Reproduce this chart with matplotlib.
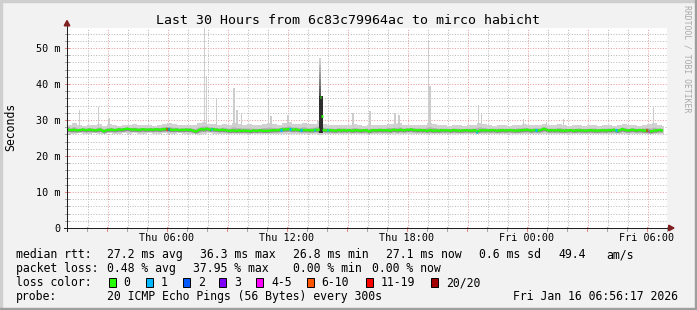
import matplotlib
matplotlib.use("Agg")
import matplotlib.pyplot as plt
import numpy as np
from matplotlib.patches import Rectangle, Polygon
from matplotlib.lines import Line2D

# ---------------- data ----------------
title = "Last 30 Hours from 6c83c79964ac to mirco habicht"
x_tick_hours = [5, 11, 17, 23, 29]          # hours after Thu 01:00
x_tick_labels = ["Thu 06:00", "Thu 12:00", "Thu 18:00", "Fri 00:00", "Fri 06:00"]
y_tick_values = [0, 10, 20, 30, 40, 50]
y_tick_labels = ["0", "10 m", "20 m", "30 m", "40 m", "50 m"]

# median rtt in ms, one value per 5 minutes, one row per hour (from Thu 01:00)
median_ms = [
    27.3, 27.3, 27.2, 27.2, 27.3, 27.2, 27.1, 27.2, 27.2, 27.3, 27.3, 27.2,
    27.2, 27.3, 27.3, 27.2, 27.2, 27.1, 27.2, 27.3, 27.3, 27.2, 26.8, 27.1,
    27.2, 27.2, 27.3, 27.3, 27.2, 27.2, 27.3, 27.4, 27.3, 27.3, 27.4, 27.5,
    27.6, 27.5, 27.4, 27.3, 27.4, 27.3, 27.3, 27.2, 27.3, 27.4, 27.4, 27.3,
    27.3, 27.3, 27.4, 27.3, 27.3, 27.4, 27.4, 27.3, 27.3, 27.4, 27.4, 27.5,
    27.5, 27.4, 27.3, 27.3, 27.2, 27.3, 27.3, 27.2, 27.2, 27.3, 27.2, 27.3,
    27.3, 27.2, 27.3, 27.1, 27.0, 26.8, 26.9, 27.2, 27.4, 27.5, 27.3, 27.5,
    27.6, 27.4, 27.3, 27.5, 27.4, 27.3, 27.3, 27.2, 27.2, 27.3, 27.2, 27.2,
    27.1, 27.0, 27.0, 27.1, 27.1, 27.0, 27.0, 27.1, 27.0, 27.0, 27.1, 27.0,
    27.0, 27.0, 26.9, 27.0, 27.1, 27.0, 27.0, 27.1, 27.1, 27.0, 27.0, 27.0,
    27.0, 27.0, 27.1, 27.1, 27.2, 27.1, 27.2, 27.2, 27.3, 27.4, 27.3, 27.4,
    27.4, 27.5, 27.4, 27.3, 27.3, 27.4, 27.3, 27.2, 27.2, 27.2, 27.2, 27.2,
    27.2, 27.1, 27.2, 27.1, 27.2, 27.3, 27.2, 27.3, 36.3, 31.2, 27.2, 27.1,
    27.2, 27.1, 27.2, 27.1, 27.1, 27.0, 27.1, 27.2, 27.1, 27.1, 27.2, 27.1,
    27.1, 27.2, 27.1, 27.0, 27.1, 27.1, 27.2, 27.1, 27.0, 27.1, 27.1, 27.2,
    27.1, 26.8, 27.0, 27.1, 27.2, 27.1, 27.1, 27.2, 27.2, 27.1, 27.2, 27.1,
    27.2, 27.1, 27.0, 27.2, 27.3, 27.2, 27.1, 27.2, 27.3, 27.2, 27.1, 27.2,
    27.3, 27.2, 27.4, 27.3, 27.2, 27.2, 27.1, 27.2, 27.2, 27.1, 27.2, 27.1,
    27.0, 27.1, 27.2, 27.1, 27.0, 27.1, 27.1, 27.0, 27.1, 27.2, 27.1, 27.1,
    27.2, 27.1, 27.0, 27.1, 27.2, 27.1, 27.1, 27.1, 27.0, 27.1, 27.1, 27.2,
    27.1, 27.1, 27.1, 27.0, 27.2, 27.1, 26.8, 27.0, 27.1, 27.2, 27.1, 27.1,
    27.2, 27.1, 27.1, 27.2, 27.2, 27.1, 27.0, 27.1, 27.1, 27.2, 27.1, 27.1,
    27.1, 27.2, 27.2, 27.1, 27.1, 27.0, 27.1, 27.1, 27.1, 27.2, 27.2, 27.2,
    27.3, 27.2, 27.1, 27.1, 27.2, 27.2, 27.1, 27.1, 27.2, 27.3, 27.6, 27.4,
    27.2, 27.1, 27.1, 27.2, 27.1, 27.1, 27.2, 27.1, 27.1, 27.1, 27.0, 27.1,
    27.1, 27.1, 27.2, 27.1, 27.0, 27.1, 27.1, 27.2, 27.1, 27.1, 27.1, 27.0,
    27.1, 27.1, 27.2, 27.1, 27.1, 27.1, 27.0, 27.1, 27.1, 27.2, 27.1, 27.1,
    27.1, 27.2, 27.1, 27.2, 27.3, 27.1, 27.0, 27.1, 27.2, 27.5, 27.3, 27.2,
    27.1, 27.1, 27.2, 27.3, 27.2, 27.1, 27.1, 27.2, 27.2, 27.1, 27.1, 27.0,
    27.1, 27.0, 26.8, 26.9, 27.0, 27.1, 27.1, 27.2, 27.2, 27.1,
]

# smoke envelope (fastest / slowest ping) in ms, one value per 15 minutes
smoke_hi_ms = [
    28.6, 29.2, 28.5, 28.4,  28.7, 28.5, 29.0, 28.4,  28.9, 28.5, 28.4, 28.6,
    28.5, 28.8, 28.6, 28.5,  28.6, 28.4, 28.7, 29.0,  29.2, 28.9, 28.6, 28.5,
    28.7, 28.6, 29.1, 29.5,  29.0, 28.8, 28.6, 28.9,  28.7, 29.3, 29.0, 28.7,
    28.8, 28.6, 28.5, 29.0,  29.2, 28.9, 28.7, 29.1,  29.4, 29.0, 28.9, 29.2,
    28.8, 29.0, 29.6, 28.9,  28.6, 28.5, 28.7, 28.6,  28.5, 28.9, 28.6, 28.4,
    28.7, 28.5, 28.6, 28.5,  29.0, 28.8, 29.1, 28.6,  28.5, 28.7, 28.6, 28.5,
    29.3, 29.0, 28.6, 28.5,  28.4, 28.6, 28.5, 28.4,  28.5, 28.6, 29.3, 28.9,
    28.5, 28.4, 28.6, 28.5,  28.4, 28.5, 28.7, 28.9,  28.5, 28.6, 28.7, 29.0,
    28.6, 28.5, 28.9, 28.6,  28.4, 28.5, 28.6, 28.4,  28.5, 28.6, 28.4, 28.5,
    28.6, 28.4, 28.5, 28.8,  28.5, 28.6, 28.4, 28.7,  28.9, 29.1, 28.6, 28.4,
]
smoke_lo_ms = [
    26.2, 26.0, 26.3, 26.2,  26.1, 26.3, 26.2, 26.0,  26.3, 26.2, 26.1, 26.3,
    26.2, 26.3, 26.2, 26.1,  26.3, 26.2, 26.2, 26.3,  26.0, 26.2, 26.3, 26.2,
    26.2, 26.1, 25.9, 26.2,  26.3, 26.2, 26.2, 26.1,  26.1, 26.0, 26.1, 26.2,
    26.0, 26.1, 26.1, 26.0,  26.1, 26.2, 26.1, 26.2,  26.2, 26.1, 26.2, 26.1,
    26.1, 26.2, 25.8, 26.2,  26.1, 26.0, 26.2, 26.1,  26.2, 26.1, 26.0, 26.1,
    26.0, 26.1, 26.2, 26.1,  26.1, 26.2, 26.0, 26.2,  26.2, 26.1, 26.1, 26.2,
    26.1, 26.0, 26.1, 26.2,  26.1, 26.2, 26.1, 26.0,  26.1, 26.0, 26.1, 26.2,
    26.2, 26.1, 26.0, 26.1,  26.1, 26.2, 26.1, 26.1,  26.0, 26.1, 26.2, 26.1,
    26.1, 26.2, 26.1, 26.0,  26.2, 26.1, 26.1, 26.2,  26.1, 26.0, 26.1, 26.1,
    26.2, 26.1, 26.0, 26.1,  26.1, 26.2, 26.1, 26.0,  26.1, 26.0, 26.2, 26.1,
]

# isolated slow pings (hours after Thu 01:00, slowest ping in ms)
spike_hours = [0.62, 1.57, 2.10, 6.88, 6.97, 7.48, 8.35, 8.50, 8.73, 10.07,
               10.20, 11.05, 14.30, 15.15, 16.40, 16.60, 18.07, 18.15, 20.57,
               20.73, 22.82, 23.98, 24.82, 29.32]
spike_top_ms = [32.8, 33.7, 30.6, 55.6, 42.2, 36.2, 38.8, 32.8, 32.0, 36.2,
                31.0, 31.4, 32.0, 32.6, 32.0, 31.4, 52.2, 39.4, 34.2,
                32.0, 30.3, 29.5, 30.3, 33.7]

# burst around Thu 13:38
burst_hour = 12.69
burst_dense_top_ms = 36.6
burst_top_ms = 47.3

# packet loss events (hour, lost pings out of 20)
loss_hours = [4.98, 5.08, 7.23, 10.70, 11.15, 11.70, 12.38, 13.03, 20.48, 23.45, 27.45, 28.98, 29.07]
loss_pings = [12, 2, 1, 1, 1, 1, 1, 1, 1, 1, 1, 12, 4]

loss_labels = ["0", "1", "2", "3", "4-5", "6-10", "11-19", "20/20"]
loss_colors = ["#26ff00", "#00b8ff", "#0059ff", "#7e00ff", "#ff00ff", "#ff5500", "#ff0000", "#a10000"]

rtt_stats = ["27.2 ms avg", "36.3 ms max", "26.8 ms min", "27.1 ms now", "0.6 ms sd", "49.4", "am/s"]
loss_stats = ["0.48 % avg", "37.95 % max", "0.00 % min", "0.00 % now"]
probe_text = "20 ICMP Echo Pings (56 Bytes) every 300s"
stamp_text = "Fri Jan 16 06:56:17 2026"

# ---------------- drawing ----------------
W, H = 697, 310
MONO = "DejaVu Sans Mono"
fig = plt.figure(figsize=(W / 100, H / 100), dpi=100)
fig.patch.set_facecolor("#f2f2f2")


def fx(x):
    return x / W


def fy(y):
    return 1 - y / H


# frame shading
fig.patches.append(Rectangle((0, fy(2)), 1, 2 / H, transform=fig.transFigure, color="#cfcfcf", zorder=0))
fig.patches.append(Rectangle((0, 0), 2 / W, 1, transform=fig.transFigure, color="#cfcfcf", zorder=0))
fig.patches.append(Rectangle((0, 0), 1, 2 / H, transform=fig.transFigure, color="#9e9e9e", zorder=0))
fig.patches.append(Rectangle((fx(695), 0), 2 / W, 1, transform=fig.transFigure, color="#9e9e9e", zorder=0))

PX_PER_MS = 3.6
ax = fig.add_axes([fx(67), fy(228), 600 / W, 200 / H])
ax.set_facecolor("white")
ax.set_xlim(0, 30)
ax.set_ylim(0, 200 / PX_PER_MS)
for s in ax.spines.values():
    s.set_visible(False)
ax.set_xticks([])
ax.set_yticks([])

# grid (fine dotted)
minor_c, major_c = "#b8b8b8", "#e89a9a"
DOT = (0, (1, 1.6))
for h in range(1, 30):
    major = (h - 2) % 3 == 0
    ax.axvline(h + 0.025, color=major_c if major else minor_c, lw=0.72, ls=DOT, zorder=1)
for v in range(2, 56, 2):
    major = v % 10 == 0
    ax.axhline(v, color=major_c if major else minor_c, lw=0.72, ls=DOT, zorder=1)

# data
med = np.array(median_ms)
n = len(med)
t = np.arange(n) / 12.0
t_end = n / 12.0
lo15 = np.array(smoke_lo_ms)
hi15 = np.array(smoke_hi_ms)
edges = np.minimum(np.arange(len(lo15) + 1) * 0.25, t_end)
ax.fill_between(edges, np.append(lo15, lo15[-1]), np.append(hi15, hi15[-1]),
                step="post", color="#d2d2d2", lw=0, zorder=2)
lo5 = np.repeat(lo15, 3)[:n]
hi5 = np.repeat(hi15, 3)[:n]
base_med = np.minimum(med, 27.6)
ax.fill_between(t, (lo5 + base_med) / 2, (hi5 + base_med) / 2 - 0.1, color="#b4b4b4", lw=0, zorder=2.1)
ax.fill_between(t, base_med - 0.45, base_med + 0.45, color="#8c8c8c", lw=0, zorder=2.2)

ax.bar(spike_hours, np.array(spike_top_ms) - 28.0, bottom=28.0, width=1 / 12,
       color="#cdcdcd", lw=0, zorder=2.05)

# burst: dense dark part and gradient tail
ax.bar(burst_hour, burst_dense_top_ms - 26.3, bottom=26.3, width=0.17, color="#2e2e2e", lw=0, zorder=2.5)
levels = np.linspace(burst_dense_top_ms, burst_top_ms, 12)
shades = np.linspace(0.33, 0.84, 11)
for k in range(11):
    ax.bar(burst_hour - 0.03, levels[k + 1] - levels[k], bottom=levels[k], width=0.11,
           color=str(shades[k]), lw=0, zorder=2.5)

# median line: continuous where it stays in the band, isolated steps where it jumps
jump = np.zeros(n, dtype=bool)
jump[1:] |= np.abs(np.diff(med)) > 1.5
jump[:-1] |= np.abs(np.diff(med)) > 1.5
isolated = jump & (med > 29)
line_vals = np.where(isolated, np.nan, med)
ax.plot(t, line_vals, color=loss_colors[0], lw=1.65, zorder=3, solid_joinstyle="miter")
for ti, vi in zip(t[isolated], med[isolated]):
    ax.plot([ti - 1 / 24, ti + 1 / 24], [vi, vi], color=loss_colors[0], lw=1.9,
            solid_capstyle="butt", zorder=3)


def loss_color(p):
    if p == 0:
        return loss_colors[0]
    if p <= 3:
        return loss_colors[p]
    if p <= 5:
        return loss_colors[4]
    if p <= 10:
        return loss_colors[5]
    if p <= 19:
        return loss_colors[6]
    return loss_colors[7]


for h, p in zip(loss_hours, loss_pings):
    i = min(int(round(h * 12)), n - 1)
    ax.plot([h - 1 / 24, h + 1 / 24], [med[i], med[i]], color=loss_color(p), lw=2.3,
            solid_capstyle="butt", zorder=3.5)


# axes lines, ticks, arrows (figure pixel coordinates)
def fline(x0, y0, x1, y1, color, lw=0.72, z=5):
    fig.lines.append(Line2D([fx(x0), fx(x1)], [fy(y0), fy(y1)], transform=fig.transFigure,
                            color=color, lw=lw, zorder=z))


X0, Y0 = 67, 228
for h in range(0, 31):
    xp = X0 + 20 * h
    major = (h - 2) % 3 == 0
    fline(xp, Y0 - 1.5, xp, Y0 + 2.5, "#e08a8a" if major else "#a8a8a8")
for v in range(0, 56, 2):
    yp = Y0 - v * PX_PER_MS
    major = v % 10 == 0
    fline(X0 - 2.5, yp, X0 + 1.5, yp, "#e08a8a" if major else "#a8a8a8")
fline(X0, Y0 + 3, X0, 25, "#1f1f1f")
fline(X0 - 3, Y0, 670, Y0, "#1f1f1f")
fig.patches.append(Polygon([(fx(67), fy(20.5)), (fx(64.2), fy(25.8)), (fx(69.8), fy(25.8))],
                           closed=True, transform=fig.transFigure, color="#801f1f", zorder=6))
fig.patches.append(Polygon([(fx(674), fy(228)), (fx(668.7), fy(225.2)), (fx(668.7), fy(230.8))],
                           closed=True, transform=fig.transFigure, color="#801f1f", zorder=6))

# texts
fig.text(fx(348), fy(24), title, family=MONO, fontsize=9.5, ha="center", va="baseline")
for h, lab in zip(x_tick_hours, x_tick_labels):
    fig.text(fx(X0 + 20 * h), fy(240.7), lab, family=MONO, fontsize=7.3, ha="center", va="baseline")
for v, lab in zip(y_tick_values, y_tick_labels):
    fig.text(fx(60.5), fy(Y0 - v * PX_PER_MS + 3.6), lab, family=MONO, fontsize=7.3,
             ha="right", va="baseline")
fig.text(fx(11), fy(127), "Seconds", family=MONO, fontsize=8.3, rotation=90, ha="center", va="center")
fig.text(fx(687.5), fy(59), "RRDTOOL / TOBI OETIKER", family=MONO, fontsize=5.9, rotation=270,
         ha="center", va="center", color="#a9a9a9")

LFS = 8.3
row1 = 258.4
fig.text(fx(16), fy(row1), "median rtt:", family=MONO, fontsize=LFS, va="baseline")
for xp, s in zip([107.3, 200, 293.3, 385.7, 479.3, 558.3, 606.7], rtt_stats):
    fig.text(fx(xp), fy(row1), s, family=MONO, fontsize=LFS, va="baseline")
row2 = 272.4
fig.text(fx(16), fy(row2), "packet loss:", family=MONO, fontsize=LFS, va="baseline")
for xp, s in zip([107.3, 193.3, 293.3, 372.3], loss_stats):
    fig.text(fx(xp), fy(row2), s, family=MONO, fontsize=LFS, va="baseline")
row3 = 286.2
fig.text(fx(16), fy(row3), "loss color:", family=MONO, fontsize=LFS, va="baseline")
box_x = [108.7, 146, 182.7, 219.3, 256, 306.7, 365.7, 430.7]
for bx, lab, col in zip(box_x, loss_labels, loss_colors):
    fig.patches.append(Rectangle((fx(bx), fy(286.7)), 7 / W, 8.3 / H, transform=fig.transFigure,
                                 facecolor=col, edgecolor="black", lw=0.7, zorder=6))
    fig.text(fx(bx + 15), fy(row3), lab, family=MONO, fontsize=LFS, va="baseline")
row4 = 300.0
fig.text(fx(16), fy(row4), "probe:", family=MONO, fontsize=LFS, va="baseline")
fig.text(fx(107.3), fy(row4), probe_text, family=MONO, fontsize=LFS, va="baseline")
fig.text(fx(513.3), fy(row4), stamp_text, family=MONO, fontsize=LFS, va="baseline")

fig.savefig("out.png", dpi=100, facecolor=fig.get_facecolor())
